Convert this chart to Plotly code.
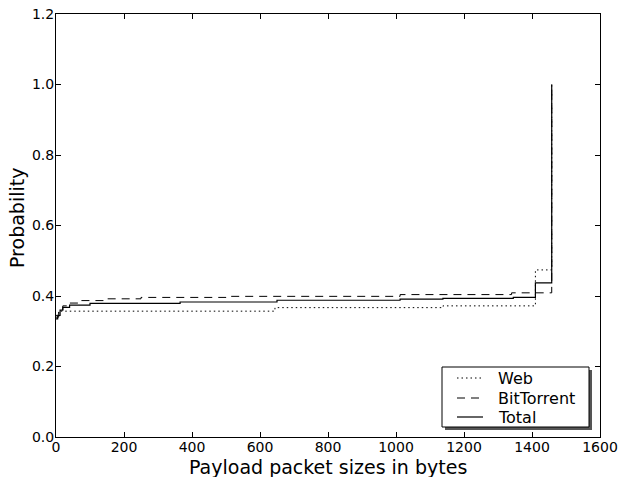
import plotly.graph_objects as go

# Step-CDF breakpoints (payload bytes) and probabilities
web_x = [0, 5, 15, 644, 1138, 1410, 1458, 1458]
web_y = [0.345, 0.352, 0.357, 0.367, 0.372, 0.474, 1.0, 1.0]

bt_x = [0, 8, 20, 35, 70, 150, 250, 500, 1012, 1340, 1458, 1458]
bt_y = [0.340, 0.360, 0.372, 0.380, 0.387, 0.392, 0.396, 0.399, 0.404, 0.409, 1.0, 1.0]

tot_x = [0, 5, 12, 20, 40, 100, 365, 650, 1012, 1138, 1345, 1410, 1458, 1458]
tot_y = [0.335, 0.345, 0.360, 0.368, 0.374, 0.379, 0.383, 0.388, 0.391, 0.393, 0.396, 0.437, 1.0, 1.0]

x_ticks = [0, 200, 400, 600, 800, 1000, 1200, 1400, 1600]
y_ticks = [0.0, 0.2, 0.4, 0.6, 0.8, 1.0, 1.2]
y_tick_text = ["0.0", "0.2", "0.4", "0.6", "0.8", "1.0", "1.2"]

series_names = ["Web", "BitTorrent", "Total"]
series_dash = ["1.5px,3px", "8px,6px", "solid"]
series_width = [1, 1, 1.2]
series_x = [web_x, bt_x, tot_x]
series_y = [web_y, bt_y, tot_y]

FONT = "DejaVu Sans"

fig = go.Figure()
for name, xs, ys, dash, w in zip(series_names, series_x, series_y, series_dash, series_width):
    fig.add_trace(go.Scatter(x=xs, y=ys, mode="lines", name=name, showlegend=False,
                             line=dict(color="black", width=w, dash=dash, shape="hv")))

L, R, T, B = 56, 19, 14, 40
W, H = 619, 477
pw, ph = W - L - R, H - T - B

def px_x(p):
    return (p - L) / pw

def px_y(p):
    return (H - B - p) / ph

# legend (drawn by hand to match the reference box): shadow, box, samples, labels
fig.add_shape(type="rect", xref="paper", yref="paper",
              x0=px_x(445), x1=px_x(592), y0=px_y(430), y1=px_y(370),
              fillcolor="#555555", line=dict(width=0), layer="above")
fig.add_shape(type="rect", xref="paper", yref="paper",
              x0=px_x(442), x1=px_x(589), y0=px_y(427), y1=px_y(367),
              fillcolor="white", line=dict(color="black", width=1), layer="above")
row_y = [378, 398, 417]
for name, dash, w, ry in zip(series_names, series_dash, series_width, row_y):
    fig.add_shape(type="line", xref="paper", yref="paper",
                  x0=px_x(457), x1=px_x(483), y0=px_y(ry), y1=px_y(ry),
                  line=dict(color="black", width=w, dash=dash), layer="above")
    fig.add_annotation(text=name, xref="paper", yref="paper",
                       x=px_x(496), y=px_y(ry), xanchor="left", yanchor="middle",
                       showarrow=False, font=dict(size=16, family=FONT))

fig.add_annotation(text="Payload packet sizes in bytes", xref="paper", yref="paper",
                   x=0.5, y=px_y(467), xanchor="center", yanchor="middle",
                   showarrow=False, font=dict(size=19, family=FONT))
fig.add_annotation(text="Probability", xref="paper", yref="paper",
                   x=px_x(17), y=px_y(218), xanchor="center", yanchor="middle",
                   textangle=-90, showarrow=False, font=dict(size=19, family=FONT))

fig.update_layout(
    width=W, height=H,
    margin=dict(l=L, r=R, t=T, b=B, autoexpand=False),
    paper_bgcolor="white", plot_bgcolor="white",
    font=dict(family=FONT, color="black", size=14),
    showlegend=False,
    xaxis=dict(range=[0, 1600], tickvals=x_ticks, ticks="inside", ticklen=5,
               tickcolor="black", showline=True, linecolor="black", linewidth=1,
               mirror="ticks", showgrid=False, zeroline=False, automargin=False,
               tickfont=dict(size=14), ticklabelstandoff=-3),
    yaxis=dict(range=[0, 1.2], tickvals=y_ticks, ticktext=y_tick_text, ticks="inside",
               ticklen=5, tickcolor="black", showline=True, linecolor="black",
               linewidth=1, mirror="ticks", showgrid=False, zeroline=False,
               automargin=False, tickfont=dict(size=14), ticklabelstandoff=-2),
)

fig.write_html("out.html", config={"displayModeBar": False},
               post_script="document.body.style.margin='0';")
